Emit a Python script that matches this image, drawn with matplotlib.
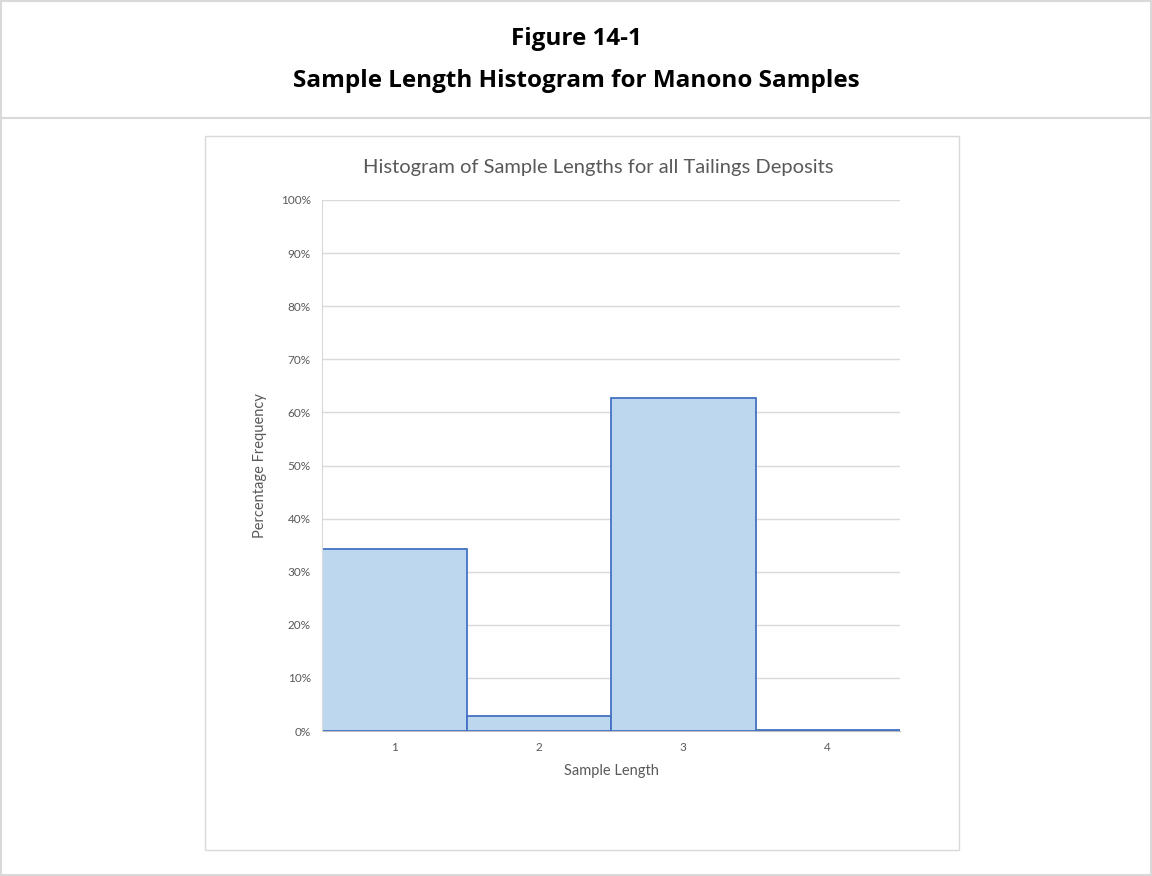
import matplotlib.pyplot as plt
from matplotlib.patches import Rectangle
from matplotlib.lines import Line2D
from matplotlib.ticker import PercentFormatter

plt.rcParams['font.family'] = ['Lato', 'DejaVu Sans']

sample_length = [1, 2, 3, 4]
pct_frequency = [34.3, 2.8, 62.7, 0.2]
y_ticks = [0, 10, 20, 30, 40, 50, 60, 70, 80, 90, 100]

W, H = 1152, 876
fig = plt.figure(figsize=(W / 100, H / 100), dpi=100)

# outer frame and header separator
border = '#d9d9d9'
fig.add_artist(Rectangle((1 / W, 1 / H), (W - 2) / W, (H - 2) / H, transform=fig.transFigure,
                         fill=False, edgecolor=border, lw=1.5))
fig.add_artist(Line2D([0, 1], [1 - 118 / H] * 2, transform=fig.transFigure, color=border, lw=1.5))
fig.text(0.5, 1 - 39 / H, 'Figure 14-1', ha='center', va='center', fontsize=17.5,
         fontweight='bold', family=['Open Sans', 'DejaVu Sans'])
fig.text(0.5, 1 - 81 / H, 'Sample Length Histogram for Manono Samples', ha='center', va='center',
         fontsize=17.5, fontweight='bold', family=['Open Sans', 'DejaVu Sans'])

# chart box
fig.add_artist(Rectangle((205 / W, 1 - 850 / H), 754 / W, 714 / H, transform=fig.transFigure,
                         fill=False, edgecolor=border, lw=1))
fig.text(598 / W, 1 - 168 / H, 'Histogram of Sample Lengths for all Tailings Deposits',
         ha='center', va='center', fontsize=14.5, color='#595959')

ax = fig.add_axes([322 / W, 1 - 731 / H, 578 / W, 531 / H])
ax.bar(sample_length, pct_frequency, width=1.0, color='#bdd7ee', edgecolor='#4472c4',
       linewidth=1.3, zorder=3)
ax.set_xlim(0.5, 4.5)
ax.set_ylim(0, 100)
ax.set_yticks(y_ticks)
ax.yaxis.set_major_formatter(PercentFormatter(decimals=0))
ax.set_xticks(sample_length)
ax.grid(axis='y', color='#d9d9d9', lw=1, zorder=0)
for s in ['top', 'right']:
    ax.spines[s].set_visible(False)
ax.spines['left'].set_color('#d9d9d9')
ax.spines['bottom'].set_color('#bfbfbf')
ax.spines['left'].set_zorder(4)
ax.tick_params(length=0, labelsize=8.5, labelcolor='#595959', pad=8)
ax.set_xlabel('Sample Length', fontsize=10.5, color='#595959', labelpad=8)
ax.set_ylabel('Percentage Frequency', fontsize=10.5, color='#595959', labelpad=10)

fig.savefig('out.png', dpi=100)
